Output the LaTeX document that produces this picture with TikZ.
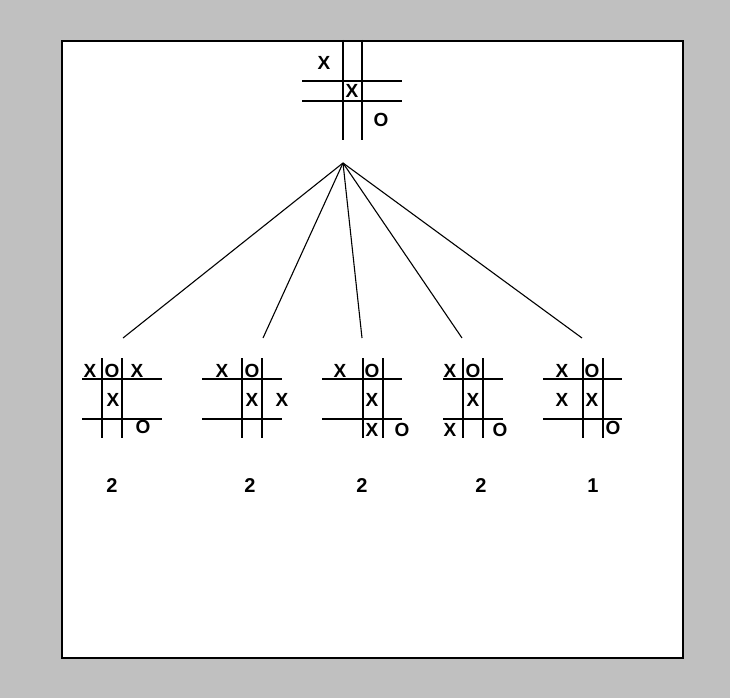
\documentclass[tikz,border=0pt]{standalone}
\usepackage{fontspec}
\setmainfont{Liberation Sans}
\definecolor{bggray}{RGB}{192,192,192}

\begin{document}
\begin{tikzpicture}[x=1pt,y=-1pt,line width=1.1pt,
  cell/.style={font=\bfseries\fontsize{19}{19}\selectfont,inner sep=0pt},
  score/.style={font=\bfseries\fontsize{20}{20}\selectfont,inner sep=0pt}]
% Background and frame
\fill[bggray] (0,0) rectangle (730,698);
\draw[fill=white,line width=1.4pt] (62,41) rectangle (683,658);
% Top board
\draw (343,40) -- (343,140);
\draw (362,40) -- (362,140);
\draw (302,81) -- (402,81);
\draw (302,101) -- (402,101);
\node[cell] (t1) at (324,63) {X};
\node[cell] (t2) at (352,91) {X};
\node[cell] (t3) at (381,120) {O};
% Tree edges
\coordinate (root) at (343,163);
\coordinate (c1) at (123,338);
\coordinate (c2) at (263,338);
\coordinate (c3) at (362,338);
\coordinate (c4) at (462,338);
\coordinate (c5) at (582,338);
\foreach \i in {1,...,5} {\draw (root) -- (c\i);}
% Child boards
\foreach \v/\l/\r in {102/82/162, 242/202/282, 363/322/402, 463/443/503, 583/543/622} {
  \draw (\v,358) -- (\v,438);
  \draw ({\v+20},358) -- ({\v+20},438);
  \draw (\l,379) -- (\r,379);
  \draw (\l,419) -- (\r,419);
}
% Moves
\foreach \x/\y/\s [count=\i] in {90/371/X, 112/371/O, 137/371/X, 113/400/X, 143/427/O,
    222/371/X, 252/371/O, 252/400/X, 282/400/X,
    340/371/X, 372/371/O, 372/400/X, 372/430/X, 402/430/O,
    450/371/X, 473/371/O, 473/400/X, 450/430/X, 500/430/O,
    562/371/X, 592/371/O, 562/400/X, 592/400/X, 613/428/O}
  {\node[cell] (m\i) at (\x,\y) {\s};}
% Scores
\node[score] (s1) at (112,486) {2};
\node[score] (s2) at (250,486) {2};
\node[score] (s3) at (362,486) {2};
\node[score] (s4) at (481,486) {2};
\node[score] (s5) at (593,486) {1};
\end{tikzpicture}
\end{document}
